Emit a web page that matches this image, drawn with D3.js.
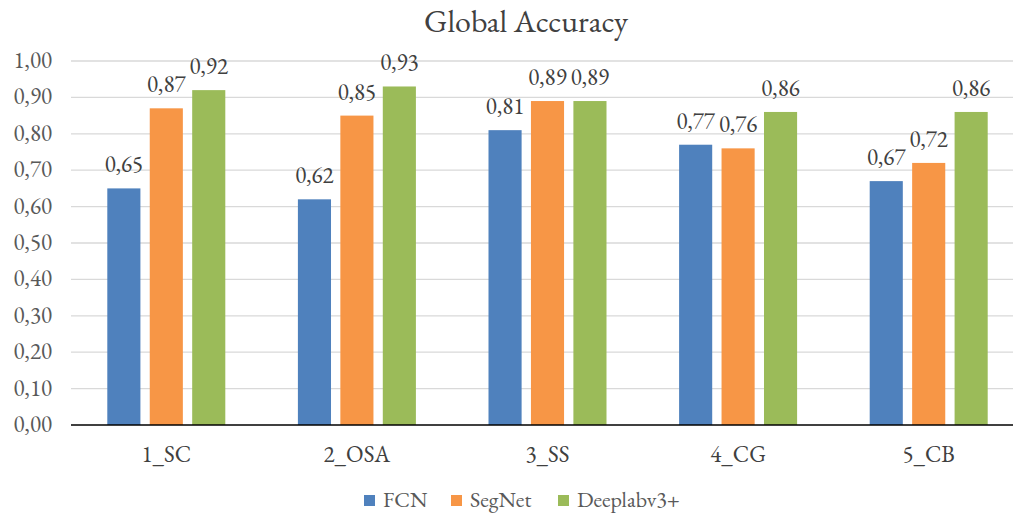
<!DOCTYPE html>
<html>
<head>
<meta charset="utf-8">
<script src="https://cdn.jsdelivr.net/npm/d3@7"></script>
<style>
  body { margin: 0; background: #fff; }
</style>
</head>
<body>
<svg id="chart" width="1013" height="515"></svg>
<script>
var categories = ["1_SC", "2_OSA", "3_SS", "4_CG", "5_CB"];
var seriesNames = ["FCN", "SegNet", "Deeplabv3+"];
var fcn = [0.65, 0.62, 0.81, 0.77, 0.67];
var segnet = [0.87, 0.85, 0.89, 0.76, 0.72];
var deeplab = [0.92, 0.93, 0.89, 0.86, 0.86];
var yTicks = [0, 0.1, 0.2, 0.3, 0.4, 0.5, 0.6, 0.7, 0.8, 0.9, 1.0];
var colors = ["#4f81bd", "#f79646", "#9bbb59"];

var FONT = "'EB Garamond', 'Liberation Serif', serif";
var svg = d3.select("#chart");
var values = [fcn, segnet, deeplab];
var fmt = function(v) { return d3.format(".2f")(v).replace(".", ","); };

function label(sel) {
  return sel.style("font-family", FONT).style("font-variant-numeric", "lining-nums");
}

var y = d3.scaleLinear().domain([0, 1]).range([425, 61]);
var x0 = d3.scaleBand().domain(categories).range([71, 1024]).paddingInner(0).paddingOuter(0);
var groupW = 118;
var x1 = d3.scaleBand().domain(d3.range(3)).range([0, groupW]).paddingInner(0.22);
var off = (x0.bandwidth() - groupW) / 2;

// gridlines
svg.append("g").selectAll("line")
  .data(yTicks.filter(function(t) { return t > 0; }))
  .enter().append("line")
  .attr("x1", 71).attr("x2", 1024)
  .attr("y1", function(d) { return y(d); })
  .attr("y2", function(d) { return y(d); })
  .attr("stroke", "#d9d9d9").attr("stroke-width", 1.3);

// y tick labels
svg.append("g").selectAll("text")
  .data(yTicks)
  .enter().append("text")
  .attr("x", 52).attr("y", function(d) { return y(d) + 7; })
  .attr("text-anchor", "end")
  .attr("font-size", "23px").attr("fill", "#595959")
  .call(label)
  .text(fmt);

// bars
var groups = svg.append("g").selectAll("g")
  .data(categories)
  .enter().append("g")
  .attr("transform", function(d) { return "translate(" + (x0(d) + off) + ",0)"; });

groups.selectAll("rect")
  .data(function(d, i) { return values.map(function(s, k) { return { k: k, v: s[i] }; }); })
  .enter().append("rect")
  .attr("x", function(d) { return x1(d.k); })
  .attr("width", x1.bandwidth())
  .attr("y", function(d) { return y(d.v); })
  .attr("height", function(d) { return y(0) - y(d.v); })
  .attr("fill", function(d) { return colors[d.k]; });

groups.selectAll("text.val")
  .data(function(d, i) { return values.map(function(s, k) { return { k: k, v: s[i] }; }); })
  .enter().append("text")
  .attr("class", "val")
  .attr("x", function(d) { return x1(d.k) + x1.bandwidth() / 2; })
  .attr("y", function(d) { return y(d.v) - 16; })
  .attr("text-anchor", "middle")
  .attr("font-size", "23px").attr("fill", "#404040")
  .call(label)
  .text(function(d) { return fmt(d.v); });

// zero axis
svg.append("line")
  .attr("x1", 71).attr("x2", 1024)
  .attr("y1", y(0)).attr("y2", y(0))
  .attr("stroke", "#000").attr("stroke-width", 1.5);

// category labels
svg.append("g").selectAll("text")
  .data(categories)
  .enter().append("text")
  .attr("x", function(d) { return x0(d) + x0.bandwidth() / 2; })
  .attr("y", 462)
  .attr("text-anchor", "middle")
  .attr("font-size", "23px").attr("fill", "#404040")
  .call(label)
  .text(function(d) { return d; });

// title
svg.append("text")
  .attr("x", 526).attr("y", 32)
  .attr("text-anchor", "middle")
  .attr("font-size", "32px").attr("fill", "#404040")
  .call(label)
  .text("Global Accuracy");

// legend
var legendX = [364, 451, 558];
var legend = svg.append("g").selectAll("g")
  .data(seriesNames)
  .enter().append("g")
  .attr("transform", function(d, i) { return "translate(" + legendX[i] + ",0)"; });
legend.append("rect")
  .attr("x", 0).attr("y", 495).attr("width", 11).attr("height", 11)
  .attr("fill", function(d, i) { return colors[i]; });
legend.append("text")
  .attr("x", 19).attr("y", 507)
  .attr("font-size", "22px").attr("fill", "#595959")
  .call(label)
  .text(function(d) { return d; });
</script>
</body>
</html>
